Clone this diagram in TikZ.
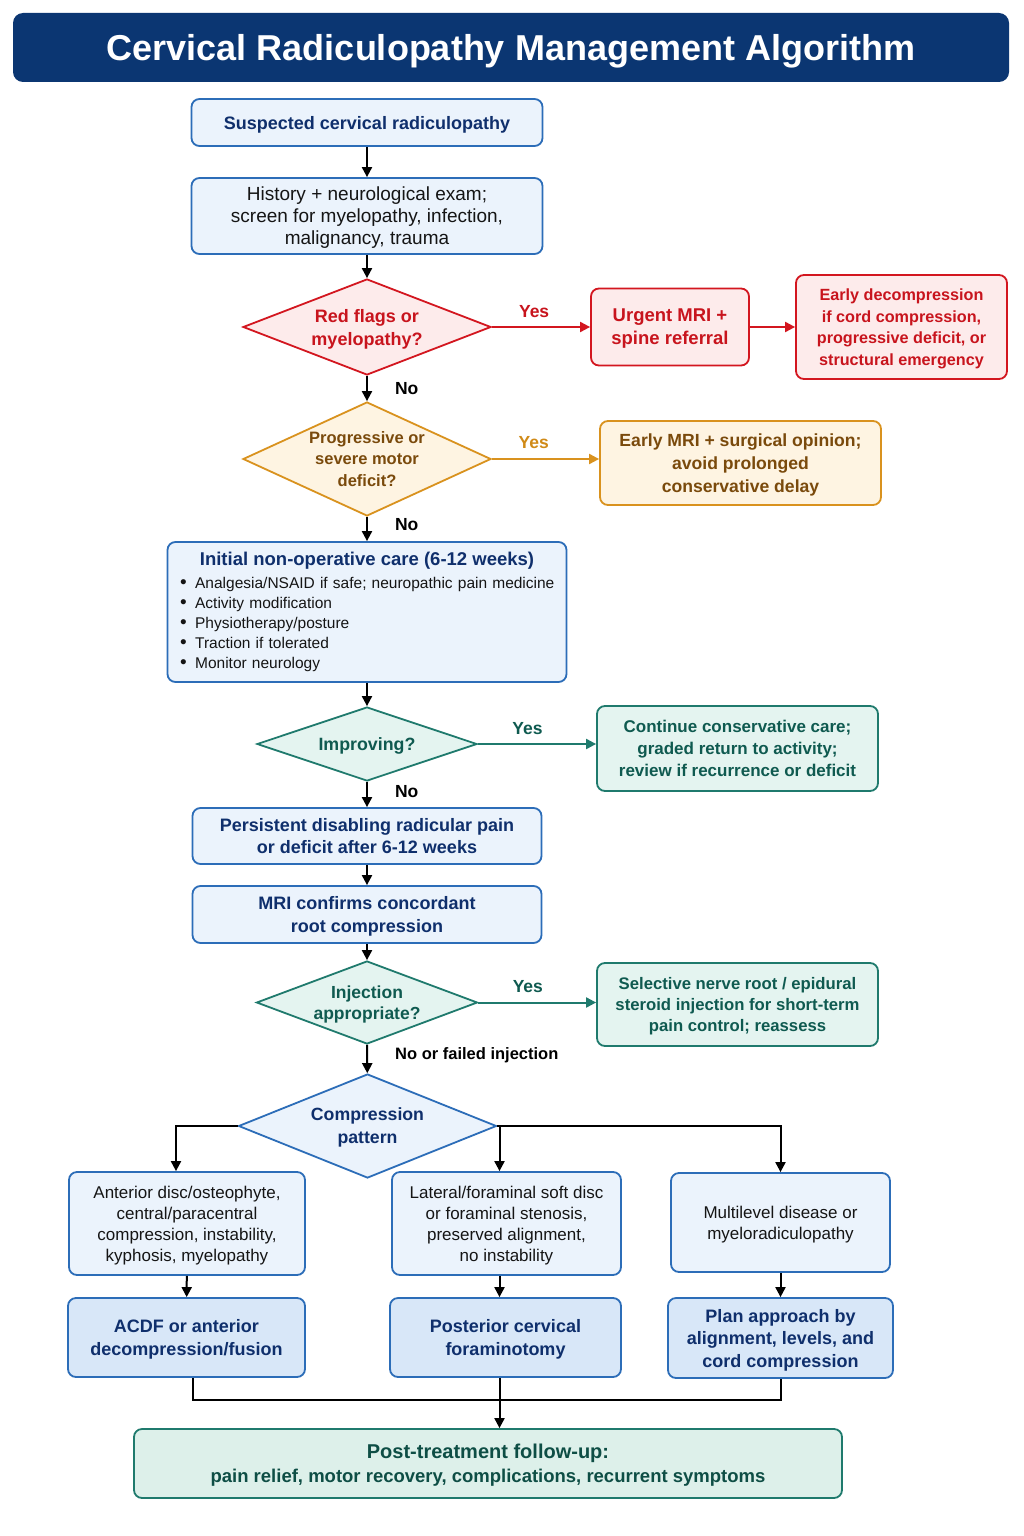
\documentclass[tikz,border=0pt]{standalone}
\usepackage{fontspec}
\setmainfont{Liberation Sans}
\usetikzlibrary{arrows.meta, positioning, shapes.geometric}

\definecolor{titlebg}{HTML}{0B3672}
\definecolor{navytxt}{HTML}{0F2F6C}
\definecolor{blueline}{HTML}{2C6DB8}
\definecolor{bluefill}{HTML}{EBF3FC}
\definecolor{bluedark}{HTML}{D8E7F8}
\definecolor{redline}{HTML}{D3161F}
\definecolor{redfill}{HTML}{FDEBEB}
\definecolor{redtxt}{HTML}{C8141D}
\definecolor{orgline}{HTML}{D9921E}
\definecolor{orgfill}{HTML}{FEF4E2}
\definecolor{orgtxt}{HTML}{7A4A0C}
\definecolor{orgyes}{HTML}{D08A17}
\definecolor{tealline}{HTML}{1F7A6D}
\definecolor{tealfill}{HTML}{E4F4F0}
\definecolor{tealtxt}{HTML}{0F5A50}
\definecolor{finalfill}{HTML}{DDF0EA}
\definecolor{finaltxt}{HTML}{0E4E45}
\definecolor{txtblack}{HTML}{151515}

\newcommand\headtxt{\fontsize{18}{22.5}\selectfont\bfseries}
\newcommand\smalltxt{\fontsize{16.5}{21.5}\selectfont\bfseries}
\newcommand\bodytxt{\fontsize{19}{22}\selectfont}
\newcommand\listtxt{\fontsize{15.5}{20}\selectfont}
\newcommand\rowtxt{\fontsize{17}{21}\selectfont}
\newcommand\blt{\hspace*{3pt}\raisebox{0.5pt}{\fontsize{19}{20}\selectfont\textbullet}\hspace{8.5pt}}

\tikzset{
  wh/.style 2 args={minimum width=#1pt, minimum height=#2pt},
  titlebox/.style={rectangle, rounded corners=10pt, fill=titlebg, text=white,
    inner sep=0pt, text depth=0pt, font=\fontsize{36}{40}\selectfont\bfseries},
  box/.style={rectangle, rounded corners=8pt, line width=1.8pt, draw=blueline,
    fill=bluefill, align=center, text=navytxt, inner sep=0pt, text depth=0pt, font=\headtxt},
  redbox/.style={box, draw=redline, fill=redfill, text=redtxt},
  orgbox/.style={box, draw=orgline, fill=orgfill, text=orgtxt},
  tealbox/.style={box, draw=tealline, fill=tealfill, text=tealtxt},
  decision/.style={diamond, inner sep=0pt, text depth=0pt, line width=1.8pt, align=center,
    draw=blueline, fill=bluefill, text=navytxt, font=\headtxt},
  reddec/.style={decision, draw=redline, fill=redfill, text=redtxt},
  orgdec/.style={decision, draw=orgline, fill=orgfill, text=orgtxt},
  tealdec/.style={decision, draw=tealline, fill=tealfill, text=tealtxt},
  arr/.style={line width=2pt, draw=black, -{Triangle[length=10pt, width=10pt]}},
  redarr/.style={arr, draw=redline},
  orgarr/.style={arr, draw=orgline},
  tealarr/.style={arr, draw=tealline},
  joinline/.style={line width=2pt, draw=black},
  lab/.style={inner sep=0pt, font=\fontsize{17.5}{20}\selectfont\bfseries},
}

\begin{document}
\begin{tikzpicture}[x=1pt, y=-1pt]
  \useasboundingbox (0,0) rectangle (1024,1536);
  \fill[white] (0,0) rectangle (1024,1536);

  % Title banner
  \node[titlebox, wh={996}{69}] (title) at (511,47.5)
    {Cervical Radiculopathy Management Algorithm};

  % Main column
  \node[box, wh={351}{47}] (suspect) at (367,122.5) {Suspected cervical radiculopathy};
  \node[box, wh={351}{76}, text=txtblack, font=\bodytxt] (history) at (367,216)
    {History + neurological exam;\\screen for myelopathy, infection,\\malignancy, trauma};

  % Red flags branch
  \node[reddec, wh={248}{96}, shape aspect=2.58, font=\fontsize{18}{23}\selectfont\bfseries]
    (redflag) at (367,327) {Red flags or\\myelopathy?};
  \node[redbox, wh={158}{77}, font=\fontsize{18.5}{23}\selectfont\bfseries] (urgent) at (670,327)
    {Urgent MRI +\\spine referral};
  \node[redbox, wh={211}{104}, font=\fontsize{16.2}{21.5}\selectfont\bfseries] (earlydec) at (901.5,327)
    {Early decompression\\if cord compression,\\progressive deficit, or\\structural emergency};

  % Motor deficit branch
  \node[orgdec, wh={248}{114}, shape aspect=2.175, font=\smalltxt] (motor) at (367,459)
    {Progressive or\\severe motor\\deficit?};
  \node[orgbox, wh={281}{84}, font=\fontsize{17.6}{23}\selectfont\bfseries] (earlymri) at (740.5,463)
    {Early MRI + surgical opinion;\\avoid prolonged\\conservative delay};

  % Conservative care
  \node[box, wh={399}{140}, text width=380pt, align=left, inner sep=9.5pt, text depth=,
    font=\listtxt, text=txtblack] (care) at (367,612)
    {{\centering\color{navytxt}\fontsize{18.5}{22}\selectfont\bfseries
      Initial non-operative care (6-12 weeks)\par}\vspace{3pt}
     \blt Analgesia/NSAID if safe; neuropathic pain medicine\\
     \blt Activity modification\\
     \blt Physiotherapy/posture\\
     \blt Traction if tolerated\\
     \blt Monitor neurology};

  \node[tealdec, wh={220}{74}, shape aspect=2.97, font=\fontsize{17.8}{22}\selectfont\bfseries]
    (improving) at (367,744) {Improving?};
  \node[tealbox, wh={281}{85}, font=\fontsize{17}{22}\selectfont\bfseries] (continue) at (737.5,748.5)
    {Continue conservative care;\\graded return to activity;\\review if recurrence or deficit};

  \node[box, wh={349}{56}] (persist) at (367,836)
    {Persistent disabling radicular pain\\or deficit after 6-12 weeks};
  \node[box, wh={349}{57}] (mriconf) at (367,914.5)
    {MRI confirms concordant\\root compression};

  % Injection branch
  \node[tealdec, wh={221}{83}, shape aspect=2.66, font=\fontsize{17.5}{21.5}\selectfont\bfseries]
    (inject) at (367,1002.5) {Injection\\appropriate?};
  \node[tealbox, wh={281}{83}, font=\fontsize{16.7}{21}\selectfont\bfseries] (selective) at (737.5,1004.5)
    {Selective nerve root / epidural\\steroid injection for short-term\\pain control; reassess};

  % Compression pattern split
  \node[decision, wh={258}{104}, shape aspect=2.48, font=\fontsize{17.7}{23}\selectfont\bfseries]
    (pattern) at (367.5,1126) {Compression\\pattern};

  \node[box, wh={236}{103}, font=\rowtxt, text=txtblack] (ant) at (187,1223.5)
    {Anterior disc/osteophyte,\\central/paracentral\\compression, instability,\\kyphosis, myelopathy};
  \node[box, wh={229}{103}, font=\rowtxt, text=txtblack] (lat) at (506.5,1223.5)
    {Lateral/foraminal soft disc\\or foraminal stenosis,\\preserved alignment,\\no instability};
  \node[box, wh={219}{99}, font=\rowtxt, text=txtblack] (multi) at (780.5,1222.5)
    {Multilevel disease or\\myeloradiculopathy};

  \node[box, fill=bluedark, wh={237}{79}] (acdf) at (186.5,1337.5)
    {ACDF or anterior\\decompression/fusion};
  \node[box, fill=bluedark, wh={231}{79}] (foram) at (505.5,1337.5)
    {Posterior cervical\\foraminotomy};
  \node[box, fill=bluedark, wh={225}{80}] (plan) at (780.5,1338)
    {Plan approach by\\alignment, levels, and\\cord compression};

  % Follow-up
  \node[tealbox, fill=finalfill, text=finaltxt, wh={708}{69},
    font=\fontsize{18.5}{24}\selectfont\bfseries] (follow) at (488,1463.5)
    {{\fontsize{20}{24}\selectfont Post-treatment follow-up:}\\
     pain relief, motor recovery, complications, recurrent symptoms};
  \coordinate (join) at (499.5,1400);

  % Connectors
  \draw[arr] (suspect) -- (history);
  \draw[arr] (history) -- (redflag);
  \draw[redarr] (redflag.east) -- node[lab, text=redtxt, above=8pt, pos=0.43] {Yes}
    (redflag.east -| urgent.west);
  \draw[redarr] (urgent.east) -- (urgent.east -| earlydec.west);
  \draw[arr] (redflag) -- node[lab, right=27pt] {No} (motor);
  \draw[orgarr] (motor.east) -- node[lab, text=orgyes, above=9pt, pos=0.39] {Yes}
    (motor.east -| earlymri.west);
  \draw[arr] (motor) -- node[lab, right=27pt, pos=0.3] {No} (care);
  \draw[arr] (care) -- (improving);
  \draw[tealarr] (improving.east) -- node[lab, text=tealtxt, above=8pt, pos=0.42] {Yes}
    (improving.east -| continue.west);
  \draw[arr] (improving) -- node[lab, right=27pt, pos=0.4] {No} (persist);
  \draw[arr] (persist) -- (mriconf);
  \draw[arr] (mriconf) -- (inject);
  \draw[tealarr] (inject.east) -- node[lab, text=tealtxt, above=9pt, pos=0.42] {Yes}
    (inject.east -| selective.west);
  \draw[arr] (inject) -- node[lab, right=27pt, pos=0.35, font=\fontsize{16.5}{20}\selectfont\bfseries]
    {No or failed injection} (pattern);

  \draw[arr] (pattern.west) -| ([xshift=-11pt]ant.north);
  \draw[arr] (pattern.east) -| (multi.north);
  \draw[arr] (pattern.east) -| ([xshift=-7pt]lat.north);
  \draw[arr] (ant) -- (acdf);
  \draw[arr] ([xshift=-7pt]lat.south) -- ([xshift=-6pt]foram.north);
  \draw[arr] (multi) -- (plan);

  \draw[joinline] ([xshift=6.5pt]acdf.south) |- (join) -| (plan.south);
  \draw[arr] ([xshift=-6pt]foram.south) -- ([xshift=11.5pt]follow.north);
\end{tikzpicture}
\end{document}
